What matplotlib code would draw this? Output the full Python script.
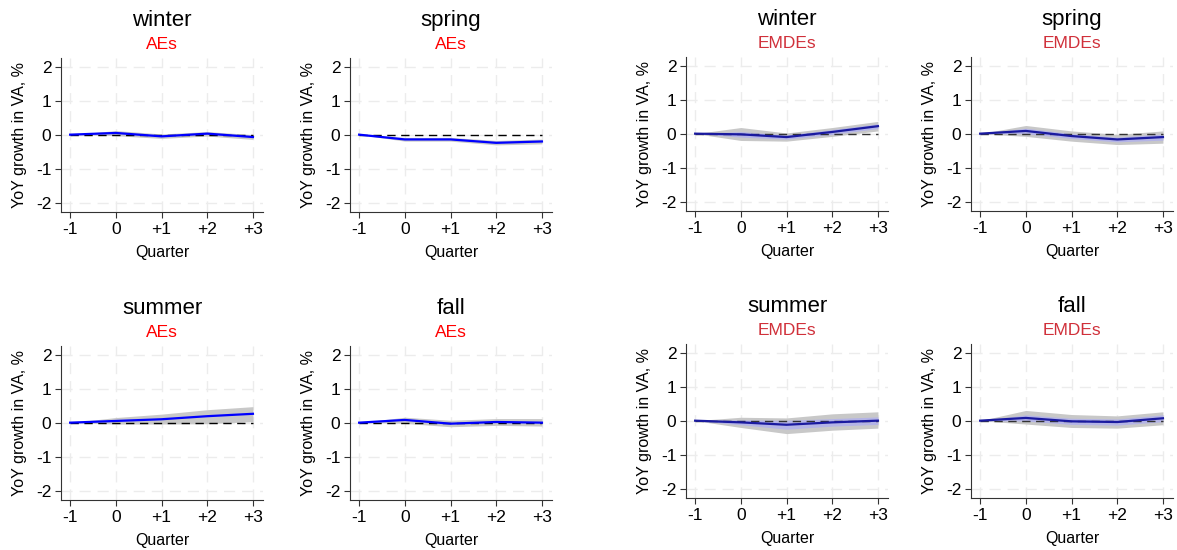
import matplotlib.pyplot as plt
import numpy as np

plt.rcParams['font.family'] = ['Liberation Sans', 'DejaVu Sans']

quarters = [-1, 0, 1, 2, 3]
quarter_labels = ['-1', '0', '+1', '+2', '+3']
seasons = ['winter', 'spring', 'summer', 'fall']

# AEs: point estimates and band
ae_mid = {
    'winter': [0, 0.05, -0.05, 0.03, -0.07],
    'spring': [0, -0.14, -0.14, -0.24, -0.20],
    'summer': [0, 0.05, 0.10, 0.19, 0.26],
    'fall':   [0, 0.08, -0.03, 0.02, 0.00],
}
ae_lo = {
    'winter': [0, -0.03, -0.11, -0.04, -0.14],
    'spring': [0, -0.19, -0.19, -0.30, -0.27],
    'summer': [0, -0.04, -0.04, -0.03, 0.03],
    'fall':   [0, -0.02, -0.12, -0.08, -0.10],
}
ae_hi = {
    'winter': [0, 0.12, 0.02, 0.09, 0.00],
    'spring': [0, -0.08, -0.08, -0.17, -0.13],
    'summer': [0, 0.15, 0.25, 0.38, 0.47],
    'fall':   [0, 0.16, 0.07, 0.12, 0.12],
}

# EMDEs: point estimates, outer (gray) and inner (blue) bands
em_mid = {
    'winter': [0, -0.02, -0.10, 0.05, 0.22],
    'spring': [0, 0.08, -0.07, -0.17, -0.10],
    'summer': [0, -0.05, -0.12, -0.05, 0.00],
    'fall':   [0, 0.08, -0.02, -0.04, 0.07],
}
em_lo = {
    'winter': [0, -0.20, -0.22, -0.08, 0.08],
    'spring': [0, -0.08, -0.22, -0.32, -0.28],
    'summer': [0, -0.20, -0.38, -0.28, -0.22],
    'fall':   [0, -0.10, -0.20, -0.22, -0.12],
}
em_hi = {
    'winter': [0, 0.18, 0.02, 0.18, 0.36],
    'spring': [0, 0.24, 0.08, -0.02, 0.08],
    'summer': [0, 0.10, 0.08, 0.20, 0.26],
    'fall':   [0, 0.30, 0.18, 0.14, 0.26],
}
em_lo_in = {
    'winter': [0, -0.10, -0.16, -0.02, 0.15],
    'spring': [0, 0.00, -0.14, -0.24, -0.19],
    'summer': [0, -0.12, -0.25, -0.16, -0.11],
    'fall':   [0, -0.01, -0.11, -0.13, -0.03],
}
em_hi_in = {
    'winter': [0, 0.06, -0.04, 0.12, 0.29],
    'spring': [0, 0.16, 0.00, -0.10, -0.01],
    'summer': [0, 0.02, 0.01, 0.06, 0.11],
    'fall':   [0, 0.17, 0.07, 0.05, 0.17],
}

fig = plt.figure(figsize=(11.77, 5.5), dpi=100)
W, H = 1177, 550


def make_ax(left_px, top_px, group, season):
    ax = fig.add_axes([left_px / W, 1 - (top_px + 154) / H, 202 / W, 154 / H])
    ax.set_xlim(-1.2, 3.22)
    ax.set_ylim(-2.27, 2.25)
    ax.set_xticks(quarters)
    ax.set_xticklabels(quarter_labels)
    ax.set_yticks([-2, -1, 0, 1, 2])
    ax.set_yticklabels(['-2', '-1', '0', '1', '2'])
    ax.grid(True, color='#ececec', linestyle=(0, (8, 5)), linewidth=1)
    ax.set_axisbelow(True)
    for s in ['top', 'right']:
        ax.spines[s].set_visible(False)
    for s in ['left', 'bottom']:
        ax.spines[s].set_color('#333333')
    ax.tick_params(labelsize=12.5, length=4, color='#333333', pad=3)
    ax.set_xlabel('Quarter', fontsize=11.5, labelpad=6)
    ax.set_ylabel('YoY growth in VA, %', fontsize=11.5, labelpad=6)
    if group == 'AEs':
        ax.fill_between(quarters, ae_lo[season], ae_hi[season], color='#c8c8c8', lw=0, zorder=2)
        ax.plot(quarters, [0] * 5, color='black', ls=(0, (6, 4)), lw=1, zorder=3)
        ax.plot(quarters, ae_mid[season], color='#0000ff', lw=1.6, zorder=4)
        sub_color = '#ff0000'
    else:
        ax.fill_between(quarters, em_lo[season], em_hi[season], color='#c8c8c8', lw=0, zorder=2)
        ax.fill_between(quarters, em_lo_in[season], em_hi_in[season], color='#b4b4e6', lw=0, zorder=2)
        ax.plot(quarters, [0] * 5, color='#333333', ls=(0, (6, 4)), lw=1, zorder=3)
        ax.plot(quarters, em_mid[season], color='#1a1aa0', lw=1.6, zorder=4)
        sub_color = '#d0303a'
    ax.text(0.5, 1.245, season, transform=ax.transAxes, ha='center', va='center', fontsize=16)
    ax.text(0.5, 1.085, group, transform=ax.transAxes, ha='center', va='center',
            fontsize=12.5, color=sub_color)
    return ax


make_ax(61, 58, 'AEs', 'winter')
make_ax(350, 58, 'AEs', 'spring')
make_ax(61, 346, 'AEs', 'summer')
make_ax(350, 346, 'AEs', 'fall')
make_ax(686, 57, 'EMDEs', 'winter')
make_ax(971, 57, 'EMDEs', 'spring')
make_ax(686, 344, 'EMDEs', 'summer')
make_ax(971, 344, 'EMDEs', 'fall')

fig.savefig('out.png', dpi=100)
